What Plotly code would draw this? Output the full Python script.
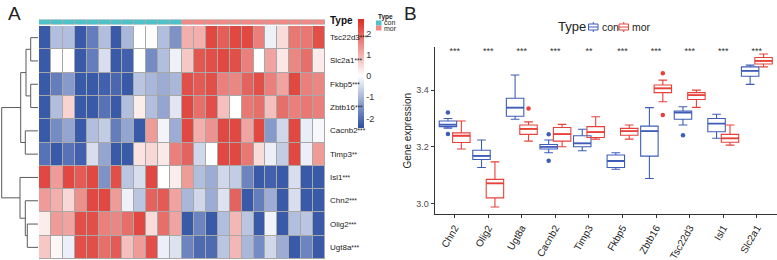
import plotly.graph_objects as go

# ---------------- Panel A data ----------------
genes = ["Tsc22d3", "Slc2a1", "Fkbp5", "Zbtb16", "Cacnb2", "Timp3", "Isl1", "Chn2", "Olig2", "Ugt8a"]
gene_sig = ["***", "***", "***", "***", "***", "**", "***", "***", "***", "***"]
sample_type = ["con"] * 12 + ["mor"] * 12

z_Tsc22d3 = [-2.3, -0.9, -0.9, -2.3, -1.8, -0.9, -2.3, -1.0, 0.0, 0.05, -0.9, -1.5,
             1.0, 1.0, 2.3, 2.0, 2.3, 2.3, 1.6, -0.2, 0.45, 1.7, 1.7, 2.2]
z_Slc2a1 = [-2.3, 0.0, 0.02, -2.3, -1.8, -0.45, -2.3, -2.2, 0.0, -1.6, -0.9, -0.2,
            0.7, 2.1, 2.2, 2.3, 2.2, 1.6, 0.0, 1.15, 0.3, 1.5, 1.8, 0.25]
z_Fkbp5 = [-2.3, -1.8, -1.4, -2.3, -2.3, -2.2, -2.1, -2.3, -0.8, -1.0, -1.15, -1.0,
           2.2, 2.05, 2.2, 1.6, 1.5, 1.95, 2.2, 1.6, 1.15, 2.3, 1.6, 1.5]
z_Zbtb16 = [-2.3, -0.9, 0.55, -2.3, -2.3, -1.95, -2.3, -0.9, 0.22, -0.9, -1.25, -0.35,
            2.3, 1.8, 2.2, 0.8, 0.0, 1.7, 1.8, 0.8, 1.8, 1.6, 1.7, 1.6]
z_Cacnb2 = [-2.3, -1.6, -1.25, -2.3, -0.9, -0.7, -1.8, -1.25, -2.3, 1.25, -0.15, -1.15,
            2.3, 1.0, 1.35, 2.3, 2.3, 1.15, 2.3, -1.4, -0.55, 2.3, -0.25, -0.1]
z_Timp3 = [-1.95, -2.3, -1.95, -2.2, -0.45, -1.25, -2.3, -2.3, 0.35, 0.5, 0.28, 1.6,
           1.95, -0.55, 0.0, 2.3, 2.3, 1.7, 0.45, -0.22, -0.7, 2.3, -0.22, 1.25]
z_Isl1 = [2.3, 1.25, 2.3, 2.05, 2.3, -1.5, 2.2, -0.8, -0.45, 2.3, 0.0, 0.22,
          1.25, -0.9, -1.15, -0.55, -0.7, -1.7, -2.3, -2.2, -2.3, -0.45, -2.3, -2.3]
z_Chn2 = [1.25, 1.0, 0.5, 1.4, 2.3, 2.3, 1.25, -0.2, -0.8, 1.95, 2.05, 1.15,
          -1.0, -0.55, -1.15, -0.4, 1.95, -2.3, -1.8, -1.15, -2.3, -0.45, -2.3, -2.3]
z_Olig2 = [0.22, 1.25, 1.15, 2.2, 2.2, 1.6, 1.5, 1.8, 2.3, 0.45, 1.8, 1.15,
           -2.3, -1.7, -2.3, -0.9, 0.9, -0.8, -2.3, -0.17, -2.3, -0.9, -0.8, -2.3]
z_Ugt8a = [0.7, 0.1, -0.22, 2.2, 2.2, 1.8, 2.05, 0.8, 1.25, 2.2, -0.22, -0.4,
           -1.7, -2.05, -2.05, -0.8, 0.9, -1.0, -1.6, -0.55, -1.15, -2.3, -1.7, -2.3]
heat_rows = [z_Tsc22d3, z_Slc2a1, z_Fkbp5, z_Zbtb16, z_Cacnb2, z_Timp3,
             z_Isl1, z_Chn2, z_Olig2, z_Ugt8a]
z_min, z_max = -2.46, 2.67
cbar_ticks = [2, 1, 0, -1, -2]

# row dendrogram: (child a, child b, height); leaves 0..9, merges numbered from 10
row_linkage = [
    (0, 1, 7.3), (2, 3, 7.3), (10, 11, 12.0), (4, 5, 12.7), (12, 13, 17.3),
    (8, 9, 10.7), (7, 15, 12.7), (6, 16, 18.0), (14, 17, 36.3),
]

# ---------------- Panel B data ----------------
box_genes = ["Chn2", "Olig2", "Ugt8a", "Cacnb2", "Timp3", "Fkbp5", "Zbtb16", "Tsc22d3", "Isl1", "Slc2a1"]
box_sig = ["***", "***", "***", "***", "**", "***", "***", "***", "***", "***"]
con_lf = [3.266, 3.127, 3.297, 3.179, 3.186, 3.121, 3.088, 3.277, 3.230, 3.420]
con_q1 = [3.271, 3.155, 3.308, 3.192, 3.200, 3.127, 3.167, 3.297, 3.253, 3.449]
con_med = [3.278, 3.168, 3.338, 3.200, 3.212, 3.150, 3.255, 3.321, 3.282, 3.468]
con_q3 = [3.291, 3.188, 3.371, 3.208, 3.239, 3.171, 3.273, 3.326, 3.300, 3.482]
con_uf = [3.300, 3.224, 3.453, 3.224, 3.262, 3.179, 3.338, 3.341, 3.315, 3.488]
mor_lf = [3.192, 2.988, 3.220, 3.200, 3.227, 3.227, 3.359, 3.339, 3.206, 3.482]
mor_q1 = [3.215, 3.020, 3.244, 3.220, 3.233, 3.241, 3.391, 3.367, 3.216, 3.492]
mor_med = [3.239, 3.071, 3.263, 3.245, 3.252, 3.255, 3.406, 3.382, 3.230, 3.503]
mor_q3 = [3.249, 3.085, 3.277, 3.268, 3.271, 3.265, 3.418, 3.391, 3.244, 3.515]
mor_uf = [3.291, 3.147, 3.288, 3.279, 3.306, 3.277, 3.435, 3.400, 3.277, 3.527]
con_out_gene = ["Chn2", "Chn2", "Cacnb2", "Cacnb2", "Tsc22d3"]
con_out_val = [3.321, 3.245, 3.244, 3.151, 3.241]
mor_out_gene = ["Ugt8a", "Zbtb16", "Zbtb16"]
mor_out_val = [3.335, 3.459, 3.312]
y_ticks = [3.0, 3.2, 3.4]
y_title = "Gene expression"
legend_groups = ["con", "mor"]

# ---------------- styling ----------------
W, H = 777, 260
FONT = "Liberation Sans, Arial, sans-serif"
C_BLUE = "#2B4DA3"
C_RED = "#DC2A22"
C_CON_ANN = "#4FC1C8"
C_MOR_ANN = "#F08A86"
C_CON = "#3F5DB8"
C_MOR = "#E8413A"
GRID = "#A8A8A8"


def px_x(p):
    return p / W


def px_y(p):
    return 1 - p / H


fig = go.Figure()

# heatmap
mid = (0 - z_min) / (z_max - z_min)
fig.add_trace(go.Heatmap(
    z=heat_rows, x=list(range(len(sample_type))), y=list(range(len(genes))),
    zmin=z_min, zmax=z_max,
    colorscale=[[0, C_BLUE], [mid, "#FFFFFF"], [1, C_RED]],
    xgap=1, ygap=1, xaxis="x", yaxis="y",
    colorbar=dict(
        x=px_x(358), xanchor="left", y=px_y(19.3), yanchor="top",
        lenmode="pixels", len=109, thicknessmode="pixels", thickness=6,
        outlinewidth=0, xpad=0, ypad=0, ticks="", ticklen=0,
        tickvals=cbar_ticks, ticktext=[str(t) for t in cbar_ticks],
        tickfont=dict(family=FONT, size=9, color="#333333"),
    ),
    hoverinfo="skip",
))

# annotation bar
type_codes = [0 if t == "con" else 1 for t in sample_type]
fig.add_trace(go.Heatmap(
    z=[type_codes], x=list(range(len(sample_type))), y=[0],
    zmin=0, zmax=1, colorscale=[[0, C_CON_ANN], [0.5, C_CON_ANN], [0.5, C_MOR_ANN], [1, C_MOR_ANN]],
    showscale=False, xgap=1, ygap=0, xaxis="x2", yaxis="y2", hoverinfo="skip",
))

# dendrogram from linkage
pos = {i: (float(i), 0.0) for i in range(len(genes))}
dx, dy = [], []
for k, (a, b, h) in enumerate(row_linkage):
    ya, ha = pos[a]
    yb, hb = pos[b]
    dx += [ha, h, h, hb, None]
    dy += [ya, ya, yb, yb, None]
    pos[len(genes) + k] = ((ya + yb) / 2, h)
fig.add_trace(go.Scatter(
    x=dx, y=dy, mode="lines", line=dict(color="#5A5A5A", width=1),
    xaxis="x3", yaxis="y3", showlegend=False, hoverinfo="skip",
))

# boxplots
n = len(box_genes)
con_x = [i + 1 - 0.2 for i in range(n)]
mor_x = [i + 1 + 0.2 for i in range(n)]
BW = 0.52
fig.add_trace(go.Box(
    name="con", x=con_x, q1=con_q1, median=con_med, q3=con_q3,
    lowerfence=con_lf, upperfence=con_uf, width=BW,
    line=dict(color=C_CON, width=1.1), fillcolor="rgba(255,255,255,0)",
    boxpoints=False, xaxis="x4", yaxis="y4", hoverinfo="skip", showlegend=False,
))
fig.add_trace(go.Box(
    name="mor", x=mor_x, q1=mor_q1, median=mor_med, q3=mor_q3,
    lowerfence=mor_lf, upperfence=mor_uf, width=BW,
    line=dict(color=C_MOR, width=1.1), fillcolor="rgba(255,255,255,0)",
    boxpoints=False, xaxis="x4", yaxis="y4", hoverinfo="skip", showlegend=False,
))
# medians emphasised
for xs, meds, col in ((con_x, con_med, C_CON), (mor_x, mor_med, C_MOR)):
    mx, my = [], []
    for xc, m in zip(xs, meds):
        mx += [xc - BW / 2, xc + BW / 2, None]
        my += [m, m, None]
    fig.add_trace(go.Scatter(x=mx, y=my, mode="lines", line=dict(color=col, width=1.8),
                             xaxis="x4", yaxis="y4", showlegend=False, hoverinfo="skip"))
# outliers
fig.add_trace(go.Scatter(
    x=[box_genes.index(g) + 1 - 0.2 for g in con_out_gene], y=con_out_val, mode="markers",
    marker=dict(color=C_CON, size=4.5), xaxis="x4", yaxis="y4", showlegend=False, hoverinfo="skip"))
fig.add_trace(go.Scatter(
    x=[box_genes.index(g) + 1 + 0.2 for g in mor_out_gene], y=mor_out_val, mode="markers",
    marker=dict(color=C_MOR, size=4.5), xaxis="x4", yaxis="y4", showlegend=False, hoverinfo="skip"))
# significance stars
fig.add_trace(go.Scatter(
    x=[i + 1 for i in range(n)], y=[3.534] * n, mode="text", text=box_sig,
    textfont=dict(family=FONT, size=9, color="#333333"), textposition="middle center",
    xaxis="x4", yaxis="y4", showlegend=False, hoverinfo="skip"))

hm_dom_x = [px_x(39), px_x(325)]
hm_dom_y = [px_y(259), px_y(26)]
ann_dom_y = [px_y(24.5), px_y(19.5)]
box_dom_y = [px_y(214.3), px_y(46.7)]

fig.update_layout(
    width=W, height=H, margin=dict(l=0, r=0, t=0, b=0, pad=0, autoexpand=False),
    paper_bgcolor="white", plot_bgcolor="white",
    font=dict(family=FONT, color="#333333"),
    showlegend=False,
    xaxis=dict(domain=hm_dom_x, range=[-0.5, len(sample_type) - 0.5], visible=False, fixedrange=True),
    yaxis=dict(domain=hm_dom_y, range=[len(genes) - 0.5, -0.5], visible=False, fixedrange=True),
    xaxis2=dict(domain=hm_dom_x, range=[-0.5, len(sample_type) - 0.5], visible=False, anchor="y2"),
    yaxis2=dict(domain=ann_dom_y, range=[-0.5, 0.5], visible=False, anchor="x2"),
    xaxis3=dict(domain=[0, px_x(39)], range=[38, -1], visible=False, anchor="y3"),
    yaxis3=dict(domain=hm_dom_y, range=[len(genes) - 0.5, -0.5], visible=False, anchor="x3"),
    xaxis4=dict(domain=[px_x(434.5), 1], range=[0.4, n + 0.6], anchor="y4",
                tickvals=[i + 1 for i in range(n)], ticktext=box_genes, tickangle=-60,
                ticks="outside", ticklen=3, tickcolor="#333333", showgrid=False, zeroline=False,
                showline=True, linecolor="#333333", linewidth=1, automargin=False,
                tickfont=dict(family=FONT, size=10, color="#222222")),
    yaxis4=dict(domain=box_dom_y, range=[2.962, 3.553], anchor="x4",
                tickvals=y_ticks, ticktext=[f"{v:.1f}" for v in y_ticks],
                ticks="outside", ticklen=3, tickcolor="#333333", showgrid=False, zeroline=False,
                showline=True, linecolor="#333333", linewidth=1, automargin=False,
                tickfont=dict(family=FONT, size=9, color="#4D4D4D")),
)

shapes = [
    dict(type="rect", xref="x domain", yref="y domain", x0=0, x1=1, y0=0, y1=1,
         fillcolor=GRID, line=dict(width=0), layer="below"),
    dict(type="rect", xref="x2 domain", yref="y2 domain", x0=0, x1=1, y0=0, y1=1,
         fillcolor=GRID, line=dict(width=0), layer="below"),
    # annotation legend swatches
    dict(type="rect", xref="paper", yref="paper", x0=px_x(376), x1=px_x(381.5),
         y0=px_y(25.5), y1=px_y(20.5), fillcolor=C_CON_ANN, line=dict(width=0)),
    dict(type="rect", xref="paper", yref="paper", x0=px_x(376), x1=px_x(381.5),
         y0=px_y(30.5), y1=px_y(25.5), fillcolor=C_MOR_ANN, line=dict(width=0)),
]

annotations = [
    dict(text="A", x=px_x(6), y=px_y(1), xref="paper", yref="paper", xanchor="left", yanchor="top",
         showarrow=False, font=dict(family=FONT, size=19, color="#222222")),
    dict(text="B", x=px_x(402), y=px_y(1), xref="paper", yref="paper", xanchor="left", yanchor="top",
         showarrow=False, font=dict(family=FONT, size=19, color="#222222")),
    dict(text="<b>Type</b>", x=px_x(327.5), y=px_y(20.5), xref="paper", yref="paper",
         xanchor="left", yanchor="middle", showarrow=False,
         font=dict(family=FONT, size=10, color="#111111")),
    dict(text="<b>Type</b>", x=px_x(376), y=px_y(16.5), xref="paper", yref="paper",
         xanchor="left", yanchor="middle", showarrow=False,
         font=dict(family=FONT, size=6.5, color="#222222")),
    dict(text="con", x=px_x(382), y=px_y(22.5), xref="paper", yref="paper",
         xanchor="left", yanchor="middle", showarrow=False,
         font=dict(family=FONT, size=7, color="#222222")),
    dict(text="mor", x=px_x(382), y=px_y(28), xref="paper", yref="paper",
         xanchor="left", yanchor="middle", showarrow=False,
         font=dict(family=FONT, size=7, color="#222222")),
    # panel B legend title
    dict(text="Type", x=px_x(556), y=px_y(27), xref="paper", yref="paper",
         xanchor="left", yanchor="middle", showarrow=False,
         font=dict(family=FONT, size=13, color="#222222")),
    # panel B y-axis title
    dict(text=y_title, x=px_x(407), y=(box_dom_y[0] + box_dom_y[1]) / 2, xref="paper", yref="paper",
         xanchor="center", yanchor="middle", textangle=-90, showarrow=False,
         font=dict(family=FONT, size=10, color="#222222")),
]

# panel B legend keys (boxplot glyphs) and labels
key_left = [588.5, 619.0]
for grp, kx, col in zip(legend_groups, key_left, (C_CON, C_MOR)):
    cx = kx + 4.75
    shapes += [
        dict(type="rect", xref="paper", yref="paper", x0=px_x(kx), x1=px_x(kx + 9.5),
             y0=px_y(30), y1=px_y(24), line=dict(color=col, width=1), fillcolor="white"),
        dict(type="line", xref="paper", yref="paper", x0=px_x(kx), x1=px_x(kx + 9.5),
             y0=px_y(27), y1=px_y(27), line=dict(color=col, width=1)),
        dict(type="line", xref="paper", yref="paper", x0=px_x(cx), x1=px_x(cx),
             y0=px_y(24), y1=px_y(22), line=dict(color=col, width=1)),
        dict(type="line", xref="paper", yref="paper", x0=px_x(cx), x1=px_x(cx),
             y0=px_y(32), y1=px_y(30), line=dict(color=col, width=1)),
    ]
    annotations.append(dict(text=grp, x=px_x(kx + 11), y=px_y(27), xref="paper", yref="paper",
                            xanchor="left", yanchor="middle", showarrow=False,
                            font=dict(family=FONT, size=10.5, color="#222222")))

for i, (g, s) in enumerate(zip(genes, gene_sig)):
    annotations.append(dict(text=g + "<span style='font-size:6.5px'>" + s + "</span>",
                            x=px_x(327.5), xref="paper", y=i, yref="y",
                            xanchor="left", yanchor="middle", showarrow=False,
                            font=dict(family=FONT, size=8, color="#222222")))
fig.update_layout(shapes=shapes, annotations=annotations)

fig.write_html("out.html", config={"displayModeBar": False},
               post_script="document.body.style.margin='0';")
